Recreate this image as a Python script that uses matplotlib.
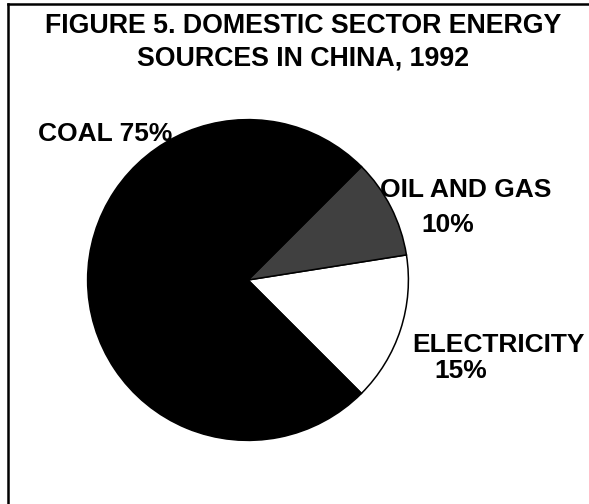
import matplotlib.pyplot as plt
from matplotlib.lines import Line2D

plt.rcParams['font.family'] = ['Liberation Sans', 'DejaVu Sans']

# data
sources = ['ELECTRICITY', 'OIL AND GAS', 'COAL']
shares = [15, 10, 75]
colors = ['#ffffff', '#404040', '#000000']
title_lines = ['FIGURE 5. DOMESTIC SECTOR ENERGY', 'SOURCES IN CHINA, 1992']

W, H = 589, 504
fig = plt.figure(figsize=(W / 100, H / 100), dpi=100)

def fx(px):
    return px / W

def fy(py):
    return 1 - py / H

# pie, centre (248, 280) px, radius 162 px
cx, cy, r = 248, 280, 162
ax = fig.add_axes([fx(cx - r), fy(cy + r), 2 * r / W, 2 * r / H])
ax.pie(shares, colors=colors, startangle=-45, counterclock=True,
       wedgeprops=dict(edgecolor='black', linewidth=1.1))
ax.set_xlim(-1.01, 1.01)
ax.set_ylim(-1.01, 1.01)
ax.axis('off')

# frame (left and top only)
fig.add_artist(Line2D([fx(8), fx(8)], [fy(4), 0], color='black', lw=1.8, transform=fig.transFigure))
fig.add_artist(Line2D([fx(8), 1], [fy(4), fy(4)], color='black', lw=1.8, transform=fig.transFigure))

kw = dict(fontsize=19, fontweight='bold', va='baseline')
fig.text(fx(303), fy(33), title_lines[0], ha='center', fontsize=19.3, fontweight='bold', va='baseline')
fig.text(fx(303), fy(65), title_lines[1], ha='center', fontsize=19.3, fontweight='bold', va='baseline')

fig.text(fx(38), fy(141), '%s %d%%' % (sources[2], shares[2]), ha='left', **kw)
fig.text(fx(380), fy(197), sources[1], ha='left', **kw)
fig.text(fx(448), fy(232), '%d%%' % shares[1], ha='center', **kw)
fig.text(fx(412), fy(352), sources[0], ha='left', **kw)
fig.text(fx(461), fy(378), '%d%%' % shares[0], ha='center', **kw)

plt.savefig('out.png', dpi=100)
